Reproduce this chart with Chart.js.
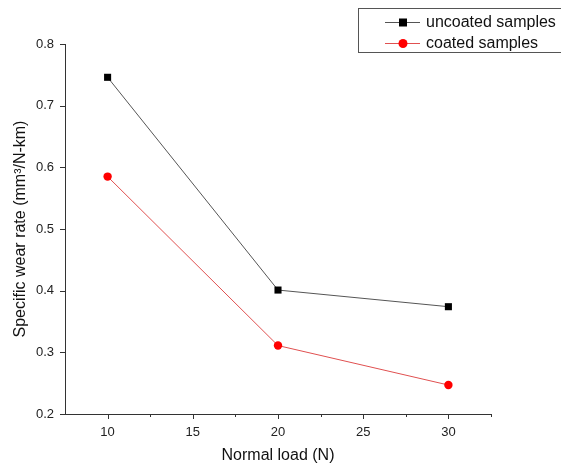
<!DOCTYPE html>
<html>
<head>
<meta charset="utf-8">
<script src="https://cdn.jsdelivr.net/npm/chart.js@4/dist/chart.umd.min.js"></script>
<style>
  html, body { margin: 0; padding: 0; background: #fff; }
  #wrap { position: relative; width: 561px; height: 469px; }
</style>
</head>
<body>
<div id="wrap"><canvas id="canvas"></canvas></div>
<script>
// data
var loads = [10, 20, 30];
var uncoated = [0.746, 0.401, 0.374];
var coated = [0.585, 0.311, 0.247];
var xMajor = [10, 15, 20, 25, 30];
var xMinor = [12.5, 17.5, 22.5, 27.5, 32.5];
var yTicks = [0.2, 0.3, 0.4, 0.5, 0.6, 0.7, 0.8];
var seriesNames = ["uncoated samples", "coated samples"];

function points(ys) {
    var out = [];
    for (var i = 0; i < loads.length; i++) {
        out.push({ x: loads[i], y: ys[i] });
    }
    return out;
}

var FONT = "'Liberation Sans', Arial, sans-serif";
var AXIS = "#333333";

// tick marks (major / minor) and the boxed legend in the corner
var extras = {
    id: "extras",
    afterDraw: function (chart) {
        var ctx = chart.ctx;
        var xs = chart.scales.x, ys = chart.scales.y;
        var b = ys.bottom, l = xs.left;
        ctx.save();
        ctx.strokeStyle = AXIS;
        ctx.lineWidth = 1;
        ctx.beginPath();
        xMajor.forEach(function (v) {
            var px = Math.round(xs.getPixelForValue(v)) + 0.5;
            ctx.moveTo(px, b); ctx.lineTo(px, b + 5);
        });
        xMinor.forEach(function (v) {
            var px = Math.round(xs.getPixelForValue(v)) + 0.5;
            ctx.moveTo(px, b); ctx.lineTo(px, b + 3);
        });
        yTicks.forEach(function (v) {
            var py = Math.round(ys.getPixelForValue(v)) + 0.5;
            ctx.moveTo(l, py); ctx.lineTo(l - 5, py);
        });
        ctx.stroke();

        // legend box
        ctx.strokeStyle = "#555555";
        ctx.strokeRect(358.5, 8.5, 210, 44);
        var ds = chart.data.datasets;
        var rows = [22, 43];
        for (var i = 0; i < ds.length; i++) {
            var y = rows[i];
            ctx.strokeStyle = ds[i].borderColor;
            ctx.beginPath();
            ctx.moveTo(385, y + 0.5); ctx.lineTo(420, y + 0.5);
            ctx.stroke();
            ctx.fillStyle = ds[i].pointBackgroundColor;
            if (ds[i].pointStyle === "rect") {
                ctx.fillRect(399, y - 3.5, 8, 8);
            } else {
                ctx.beginPath();
                ctx.arc(403, y + 0.5, 4.5, 0, Math.PI * 2);
                ctx.fill();
            }
            ctx.fillStyle = "#111111";
            ctx.font = "16px " + FONT;
            ctx.textBaseline = "middle";
            ctx.fillText(ds[i].label, 426, y + 1);
        }
        ctx.restore();
    }
};

new Chart(document.getElementById("canvas"), {
    type: "scatter",
    data: {
        datasets: [{
            label: seriesNames[0],
            data: points(uncoated),
            showLine: true,
            borderColor: "#555555",
            borderWidth: 1,
            pointStyle: "rect",
            pointRadius: 5,
            pointBackgroundColor: "#000000",
            pointBorderColor: "#000000",
            pointBorderWidth: 0
        }, {
            label: seriesNames[1],
            data: points(coated),
            showLine: true,
            borderColor: "#e05050",
            borderWidth: 1,
            pointStyle: "circle",
            pointRadius: 4.2,
            pointBackgroundColor: "#ff0000",
            pointBorderColor: "#ff0000",
            pointBorderWidth: 0
        }]
    },
    options: {
        responsive: true,
        maintainAspectRatio: false,
        animation: false,
        layout: { padding: { top: 44, right: 70, left: 0, bottom: 0 } },
        plugins: {
            legend: { display: false },
            tooltip: { enabled: false }
        },
        scales: {
            x: {
                type: "linear",
                min: 7.5,
                max: 32.5,
                afterBuildTicks: function (scale) {
                    scale.ticks = xMajor.map(function (v) { return { value: v }; });
                },
                afterFit: function (scale) { scale.height = 55; },
                grid: { display: false, drawTicks: false },
                border: { display: true, color: AXIS, width: 1 },
                ticks: {
                    padding: 11,
                    autoSkip: false,
                    maxRotation: 0,
                    color: "#222222",
                    font: { family: FONT, size: 13 }
                },
                title: {
                    display: true,
                    text: "Normal load (N)",
                    color: "#111111",
                    padding: { top: 10 },
                    font: { family: FONT, size: 16 }
                }
            },
            y: {
                min: 0.2,
                max: 0.8,
                afterBuildTicks: function (scale) {
                    scale.ticks = yTicks.map(function (v) { return { value: v }; });
                },
                afterFit: function (scale) { scale.width = 65; },
                grid: { display: false, drawTicks: false },
                border: { display: true, color: AXIS, width: 1 },
                ticks: {
                    padding: 11,
                    autoSkip: false,
                    color: "#222222",
                    font: { family: FONT, size: 13 },
                    callback: function (v) { return v.toFixed(1); }
                },
                title: {
                    display: true,
                    text: "Specific wear rate (mm\u00b3/N-km)",
                    color: "#111111",
                    padding: { top: 11, bottom: 0 },
                    font: { family: FONT, size: 16 }
                }
            }
        }
    },
    plugins: [extras]
});
</script>
</body>
</html>
